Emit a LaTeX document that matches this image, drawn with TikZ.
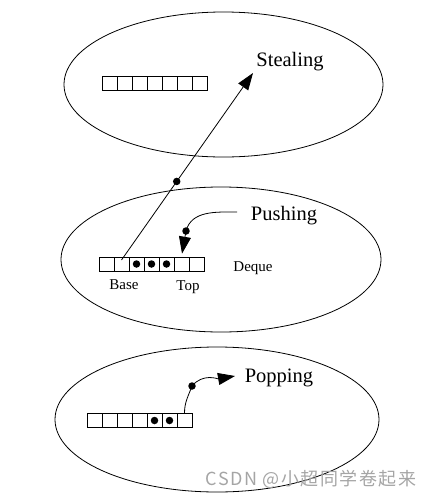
\documentclass[tikz,border=0pt]{standalone}
\usepackage{fontspec}
\setmainfont{Liberation Serif}
\newfontfamily\cjk[LetterSpace=8]{Noto Sans CJK SC}
\usetikzlibrary{arrows.meta}
\begin{document}
\begin{tikzpicture}[x=1pt,y=-1pt,line width=0.8pt,>={Triangle[length=17pt,width=12pt]},
    cell/.style={draw,minimum width=15pt,minimum height=14pt,inner sep=0pt,line width=0.8pt},
    dot/.style={circle,fill,inner sep=0pt,minimum size=7.5pt},
    big/.style={font=\fontsize{20.5}{23}\selectfont},
    small/.style={font=\fontsize{15}{17}\selectfont}]
    \useasboundingbox (0,0) rectangle (432,499);
    \draw (223.5,84.5) ellipse (159.5 and 72.5);
    \draw (221,259.5) ellipse (160 and 72.5);
    \draw (217,419.5) ellipse (162 and 72.5);
    \foreach \i in {1,...,7}{
        \node[cell] (t\i) at (102+7.5+15*\i-15,83) {};
        \node[cell] (m\i) at (99+7.5+15*\i-15,264) {};
        \node[cell] (b\i) at (87+7.5+15*\i-15,420.5) {};
    }
    \foreach \i in {3,4,5}\node[dot] (md\i) at (m\i) {};
    \foreach \i in {5,6}\node[dot] (bd\i) at (b\i) {};
    \node[big] (steal) at (290,62) {Stealing};
    \node[big] (push) at (284,216) {Pushing};
    \node[big] (pop) at (279,378) {Popping};
    \node[small] (base) at (124,285) {Base};
    \node[small] (top) at (188,287) {Top};
    \node[small] (deque) at (253,268) {Deque};
    \coordinate (stealtip) at (253,73);
    \coordinate (pushstart) at (237,212);
    \coordinate (poptip) at (235,376);
    \node[dot] (pdot) at (186,231) {};
    \node[dot] (odot) at (192,386) {};
    \draw[->] ([yshift=4pt]m2.center) -- node[pos=.42,dot] (sdot) {} (stealtip);
    \draw[->,shorten >=3pt] (pushstart) to[out=180,in=75] (pdot.center) -- (m6.north);
    \draw[->] (b7.north) to[out=90,in=250] (odot.center) to[out=50,in=190] (poptip);
    \node[font=\cjk\fontsize{18}{20}\selectfont,text={rgb,255:red,165;green,165;blue,165}] (mark) at (311,479) {CSDN @小超同学卷起来};
\end{tikzpicture}
\end{document}
